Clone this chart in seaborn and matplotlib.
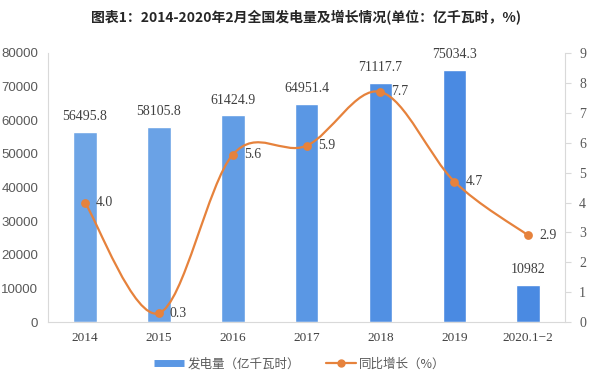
import numpy as np
import pandas as pd
import matplotlib
matplotlib.use("Agg")
import matplotlib.pyplot as plt
from matplotlib.path import Path
from matplotlib.patches import PathPatch
from matplotlib.lines import Line2D
import seaborn as sns

categories = ["2014", "2015", "2016", "2017", "2018", "2019", "2020.1\u22122"]
generation = [56495.8, 58105.8, 61424.9, 64951.4, 71117.7, 75034.3, 10982]
gen_labels = ["56495.8", "58105.8", "61424.9", "64951.4", "71117.7", "75034.3", "10982"]
growth = [4.0, 0.3, 5.6, 5.9, 7.7, 4.7, 2.9]
left_ticks = [0, 10000, 20000, 30000, 40000, 50000, 60000, 70000, 80000]
right_ticks = [0, 1, 2, 3, 4, 5, 6, 7, 8, 9]

sns.set_theme(style="white")
plt.rcParams['font.family'] = ['Noto Sans CJK SC', 'DejaVu Sans']

bar_colors = ["#6ea5e6", "#6aa2e6", "#629de5", "#5a97e4", "#5190e3", "#4a8ae2", "#4a8ae2"]
line_color = "#e6823c"
text_color = "#404040"
serif = ['Liberation Serif', 'DejaVu Serif']

df = pd.DataFrame({"cat": categories, "gen": generation})

fig = plt.figure(figsize=(6, 3.84), dpi=100)
ax = fig.add_axes([0.08, 0.161, 0.862, 0.701])
sns.barplot(data=df, x="cat", y="gen", hue="cat", palette=bar_colors,
            width=0.32, legend=False, ax=ax, saturation=1)
ax.set_xlim(-0.5, 6.5)
ax.set_ylim(0, 80000)
ax.set_yticks(left_ticks)
ax.set_yticklabels([str(t) for t in left_ticks], fontsize=9.5, color="#595959",
                   family=['Liberation Sans', 'DejaVu Sans'])
ax.set_xticks(range(len(categories)))
ax.set_xticklabels(categories, fontsize=9.5, color=text_color, family=serif)
ax.set_xlabel("")
ax.set_ylabel("")
ax.tick_params(axis='both', length=0, pad=7)
for s in ["top", "right"]:
    ax.spines[s].set_visible(False)
ax.spines["left"].set_color("#d9d9d9")
ax.spines["bottom"].set_color("#d9d9d9")
ax.spines["left"].set_linewidth(0.8)
ax.spines["bottom"].set_linewidth(0.8)

for i, (v, lab) in enumerate(zip(generation, gen_labels)):
    ax.text(i, v + 2600, lab, ha="center", va="bottom", fontsize=10,
            color=text_color, family=serif)

ax2 = ax.twinx()
ax2.set_ylim(0, 9)
ax2.set_yticks(right_ticks)
ax2.set_yticklabels([str(t) for t in right_ticks], fontsize=10, color="#595959",
                    family=serif)
ax2.tick_params(axis='y', length=4, width=0.8, color="#d9d9d9", direction="out", pad=6)
for s in ["top", "left", "bottom"]:
    ax2.spines[s].set_visible(False)
ax2.spines["right"].set_color("#d9d9d9")
ax2.spines["right"].set_linewidth(0.8)

# smooth curve (Catmull-Rom -> cubic Bezier) through the data points
xs = np.arange(len(growth), dtype=float)
ys = np.array(growth, dtype=float)
pts = np.column_stack([xs, ys])
ext = np.vstack([pts[0], pts, pts[-1]])
verts = [tuple(pts[0])]
codes = [Path.MOVETO]
for k in range(len(pts) - 1):
    p0, p1, p2, p3 = ext[k], ext[k + 1], ext[k + 2], ext[k + 3]
    c1 = p1 + (p2 - p0) / 6.0
    c2 = p2 - (p3 - p1) / 6.0
    verts += [tuple(c1), tuple(c2), tuple(p2)]
    codes += [Path.CURVE4] * 3
patch = PathPatch(Path(verts, codes), facecolor="none", edgecolor=line_color, lw=1.6)
ax2.add_patch(patch)

gdf = pd.DataFrame({"x": xs, "g": ys})
sns.scatterplot(data=gdf, x="x", y="g", ax=ax2, color=line_color, s=40,
                edgecolor=line_color, linewidth=0, zorder=5, legend=False)
ax2.set_xlabel("")
ax2.set_ylabel("")
ax2.set_xlim(-0.5, 6.5)
for i, g in enumerate(growth):
    ax2.text(i + 0.15, g, f"{g:.1f}", ha="left", va="center", fontsize=10,
             color=text_color, family=serif)

fig.text(0.51, 0.953, "图表1：2014-2020年2月全国发电量及增长情况(单位：亿千瓦时，%)",
         ha="center", va="center", fontsize=10, fontweight="bold", color="#262626")

handles = [Line2D([0], [0], color="#5a97e4", lw=5, solid_capstyle="butt"),
           Line2D([0], [0], color=line_color, lw=1.6, marker="o", markersize=5)]
fig.legend(handles, ["发电量（亿千瓦时）", "同比增长（%）"], loc="center",
           bbox_to_anchor=(0.5, 0.052), ncol=2, frameon=False, fontsize=9,
           handlelength=2.4, handletextpad=0.3, columnspacing=2.0, labelcolor="#595959")

fig.savefig("out.png", dpi=100)
